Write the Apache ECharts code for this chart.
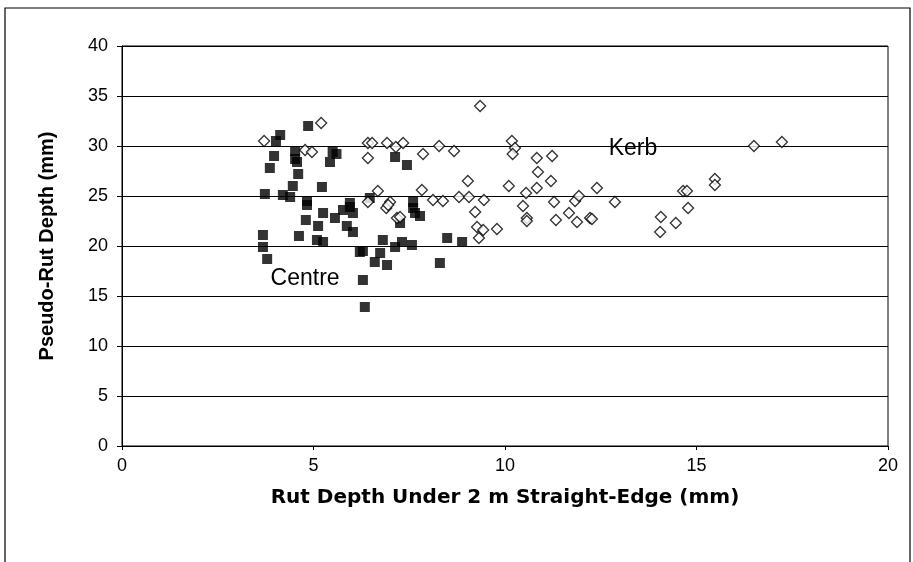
<!DOCTYPE html>
<html>
<head>
<meta charset="utf-8">
<script src="https://cdn.jsdelivr.net/npm/echarts@6/dist/echarts.min.js"></script>
<style>
  html, body { margin: 0; padding: 0; background: #fff; }
  #chart { width: 913px; height: 562px; }
</style>
</head>
<body>
<div id="chart"></div>
<script>
// Centre (filled squares): [rut depth under straight-edge, pseudo-rut depth]
const centreX = [4.86, 4.13, 4.02, 3.97, 3.86, 4.52, 4.52, 4.57, 4.6, 4.46, 5.22, 5.5, 5.6, 5.43,
  3.73, 4.2, 4.39, 4.83, 5.95, 3.68, 3.68, 3.79, 4.83, 5.25, 4.8, 5.12, 4.62, 5.09, 5.25,
  5.56, 5.77, 5.95, 6.03, 5.87, 6.03, 6.21, 6.29, 6.34, 6.47, 7.6, 7.6, 7.65, 7.78, 7.26,
  6.81, 6.29, 7.31, 7.13, 7.57, 6.74, 6.6, 6.92, 8.49, 8.88, 8.3, 7.13, 7.44];
const centreY = [32.0, 31.1, 30.5, 29.0, 27.8, 29.5, 28.7, 28.4, 27.2, 26.0, 25.9, 29.4, 29.2, 28.4,
  25.2, 25.1, 24.9, 24.5, 24.3, 21.1, 19.9, 18.7, 24.1, 23.3, 22.6, 22.0, 21.0, 20.6, 20.4,
  22.8, 23.6, 23.9, 23.3, 22.0, 21.4, 19.4, 16.6, 13.9, 24.8, 24.4, 23.8, 23.3, 23.0, 22.3,
  20.6, 19.5, 20.4, 19.9, 20.1, 19.3, 18.4, 18.1, 20.8, 20.4, 18.3, 28.9, 28.1];

// Kerb (open diamonds)
const kerbX = [5.2, 3.71, 4.78, 4.96, 6.42, 6.42, 6.53, 6.92, 7.15, 7.34, 7.86, 8.28, 8.67, 9.35,
  9.03, 6.68, 7.83, 8.12, 8.38, 8.8, 9.06, 7.0, 6.42, 6.9, 6.95, 9.22, 9.27, 9.32, 7.18, 7.26,
  10.18, 10.26, 10.2, 10.83, 11.23, 10.86, 11.2, 10.1, 10.83, 9.45, 10.55, 10.47, 9.43, 9.79,
  10.57, 10.57, 11.28, 11.33, 11.67, 11.88, 11.83, 11.93, 12.22, 12.27, 12.4, 12.87,
  14.65, 14.75, 14.78, 14.07, 14.46, 14.05, 15.48, 15.48, 16.5, 17.23];
const kerbY = [32.3, 30.5, 29.6, 29.4, 30.3, 28.8, 30.3, 30.3, 29.9, 30.3, 29.2, 30.0, 29.5, 34.0,
  26.5, 25.5, 25.6, 24.6, 24.5, 24.9, 24.9, 24.4, 24.4, 23.8, 24.1, 23.4, 21.9, 20.8, 22.8, 22.9,
  30.5, 29.8, 29.2, 28.8, 29.0, 27.4, 26.5, 26.0, 25.8, 24.6, 25.3, 24.0, 21.6, 21.7,
  22.8, 22.5, 24.4, 22.6, 23.3, 22.4, 24.5, 25.0, 22.8, 22.7, 25.8, 24.4,
  25.5, 25.5, 23.8, 22.9, 22.3, 21.4, 26.7, 26.1, 30.0, 30.4];

const xTicks = [0, 5, 10, 15, 20];
const yTicks = [0, 5, 10, 15, 20, 25, 30, 35, 40];

const zip = (xs, ys) => xs.map((x, i) => [x, ys[i]]);

const chart = echarts.init(document.getElementById('chart'));
const font = '"Liberation Sans", Arial, sans-serif';

chart.setOption({
  animation: false,
  backgroundColor: '#fff',
  textStyle: { fontFamily: font, color: '#000' },
  graphic: [
    {
      type: 'rect',
      shape: { x: 5, y: 8, width: 905, height: 560 },
      style: { fill: 'none', stroke: '#000', lineWidth: 1.2 },
      silent: true
    }
  ],
  grid: { left: 122, right: 25, top: 46, bottom: 116, show: true, borderColor: '#000', borderWidth: 1 },
  xAxis: {
    type: 'value',
    min: xTicks[0],
    max: xTicks[xTicks.length - 1],
    interval: 5,
    name: 'Rut Depth Under 2 m Straight-Edge (mm)',
    nameLocation: 'middle',
    nameGap: 42,
    // the scanned title is set wide, so a broader face is used here
    nameTextStyle: { fontSize: 20, fontWeight: 'bold', color: '#000', fontFamily: '"DejaVu Sans", sans-serif' },
    axisLine: { lineStyle: { color: '#000', width: 1.2 } },
    axisTick: { inside: false, length: 4, lineStyle: { color: '#000' } },
    axisLabel: { fontSize: 18, color: '#000', margin: 11, fontFamily: font },
    splitLine: { show: false }
  },
  yAxis: {
    type: 'value',
    min: yTicks[0],
    max: yTicks[yTicks.length - 1],
    interval: 5,
    name: 'Pseudo-Rut Depth (mm)',
    nameLocation: 'middle',
    nameGap: 65,
    nameTextStyle: { fontSize: 20, fontWeight: 'bold', color: '#000', fontFamily: font },
    axisLine: { show: true, lineStyle: { color: '#000', width: 1 } },
    axisTick: { show: true, length: 5, lineStyle: { color: '#000' } },
    axisLabel: { fontSize: 18, color: '#000', margin: 14, fontFamily: font },
    splitLine: { show: true, lineStyle: { color: '#000', width: 1 } }
  },
  series: [
    {
      name: 'Centre',
      type: 'scatter',
      symbol: 'rect',
      symbolSize: 10,
      itemStyle: { color: '#000' },
      data: zip(centreX, centreY),
      markPoint: {
        symbolSize: 0,
        label: { show: true, formatter: 'Centre', fontSize: 23, color: '#000', fontFamily: font },
        data: [{ coord: [4.78, 16.7] }]
      }
    },
    {
      name: 'Kerb',
      type: 'scatter',
      symbol: 'diamond',
      symbolSize: 11,
      itemStyle: { color: '#fff', borderColor: '#000', borderWidth: 1.3 },
      data: zip(kerbX, kerbY),
      markPoint: {
        symbolSize: 0,
        label: { show: true, formatter: 'Kerb', fontSize: 23, color: '#000', fontFamily: font },
        data: [{ coord: [13.34, 29.7] }]
      }
    }
  ]
});
</script>
</body>
</html>
